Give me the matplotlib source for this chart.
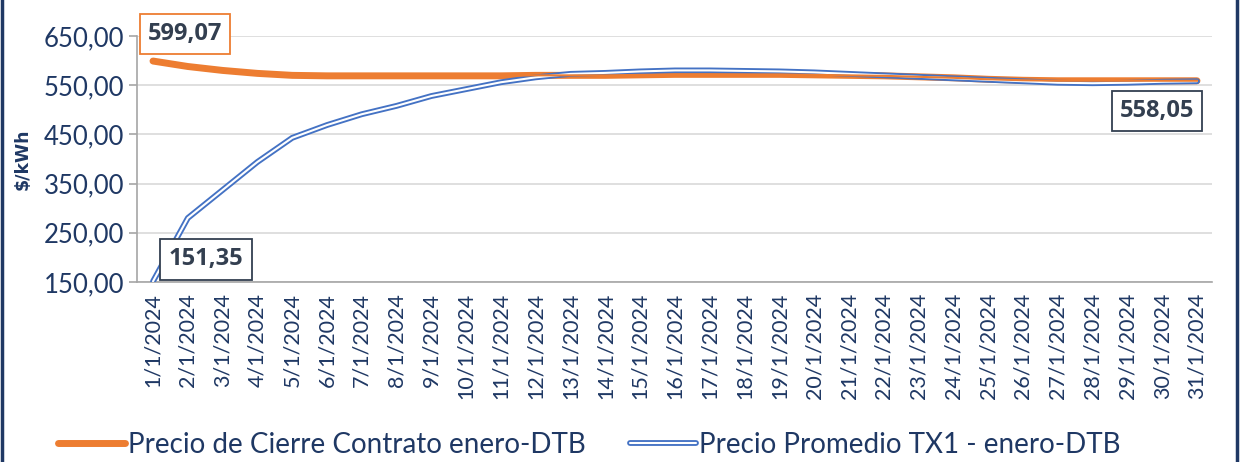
import matplotlib
matplotlib.use("Agg")
import matplotlib.pyplot as plt
from matplotlib.lines import Line2D

days = [f"{d}/1/2024" for d in range(1, 32)]
cierre = [599.07, 588, 580, 574, 570, 569, 569, 569, 569, 569,
          569, 570, 570, 570, 571, 572, 572, 572, 572, 571,
          570, 569, 567, 565, 562, 560, 559, 559, 559, 559, 559]
promedio_tx1 = [151.35, 280, 337, 394, 443, 469, 491, 508, 528, 542,
                556, 566, 573, 575, 578, 580, 580, 579, 578, 576,
                573, 570, 567, 564, 561, 558, 555, 554, 555, 557, 558.05]

navy = "#1F3864"
orange = "#ED7D31"
blue = "#4472C4"
label_dark = "#333F50"

plt.rcParams["font.family"] = ["Lato", "DejaVu Sans"]

fig = plt.figure(figsize=(12.41, 4.62), dpi=100)
ax = fig.add_axes([0.1104, 0.3896, 0.8662, 0.5325])

x = list(range(1, len(days) + 1))
ax.plot(x, cierre, color=orange, lw=5, solid_capstyle="round", zorder=3)
ax.plot(x, promedio_tx1, color=blue, lw=4.2, solid_capstyle="round", zorder=4)
ax.plot(x, promedio_tx1, color="white", lw=1.5, solid_capstyle="round", zorder=5)
ax.plot(x, cierre, color=orange, lw=1.5, zorder=6)

ax.set_xlim(0.54, 31.43)
ax.set_ylim(150, 650)
ax.set_yticks([150, 250, 350, 450, 550, 650])
ax.set_yticklabels([f"{v:.2f}".replace(".", ",") for v in ax.get_yticks()])
ax.set_xticks(x)
ax.set_xticklabels(days, rotation=90)
ax.tick_params(axis="y", colors="#A6A6A6", labelcolor=navy, labelsize=18.5,
               length=6, width=1.2, pad=3)
ax.tick_params(axis="x", length=0, labelcolor=navy, labelsize=15.5, pad=8)
ax.grid(axis="y", color="#D9D9D9", lw=1.2)
ax.set_axisbelow(True)
for s in ("top", "right"):
    ax.spines[s].set_visible(False)
for s in ("left", "bottom"):
    ax.spines[s].set_color("#A6A6A6")
    ax.spines[s].set_linewidth(1.2)
ax.set_ylabel("$/kWh", color=navy, fontsize=12.5, fontweight="bold",
              family=["DejaVu Sans"], labelpad=2)
ax.yaxis.set_label_coords(-0.098, 0.5)

box_font = dict(family=["Open Sans", "DejaVu Sans"], fontsize=17,
                fontweight="bold", color=label_dark, ha="center", va="center")
ax.annotate(f"{cierre[0]:.2f}".replace(".", ","), (x[0], cierre[0]),
            xytext=(32, 27), textcoords="offset pixels", zorder=7,
            bbox=dict(boxstyle="square,pad=0.35", fc="white", ec=orange, lw=1.3),
            **box_font)
ax.annotate(f"{promedio_tx1[0]:.2f}".replace(".", ","), (x[0], promedio_tx1[0]),
            xytext=(53, 22), textcoords="offset pixels", zorder=7,
            bbox=dict(boxstyle="square,pad=0.35", fc="white", ec=label_dark, lw=1.3),
            **box_font)
ax.annotate(f"{promedio_tx1[-1]:.2f}".replace(".", ","), (x[-1], promedio_tx1[-1]),
            xytext=(-40, -30), textcoords="offset pixels", zorder=7,
            bbox=dict(boxstyle="square,pad=0.35", fc="white", ec=label_dark, lw=1.3),
            **box_font)

h_orange = Line2D([], [], color=orange, lw=5, solid_capstyle="round")
h_blue = (Line2D([], [], color=blue, lw=4.2, solid_capstyle="round"),
          Line2D([], [], color="white", lw=1.5, solid_capstyle="round"))
fig.legend([h_orange, h_blue],
           ["Precio de Cierre Contrato enero-DTB", "Precio Promedio TX1 - enero-DTB"],
           loc="lower center", bbox_to_anchor=(0.475, -0.045), ncol=2, frameon=False,
           fontsize=20, labelcolor=navy, handlelength=2.4, handletextpad=0.1,
           columnspacing=1.6)

# outer frame edges
fig.add_artist(Line2D([0.002, 0.002], [0, 1], color=navy, lw=2.5))
fig.add_artist(Line2D([0.997, 0.997], [0, 1], color=navy, lw=2.5))

fig.savefig("out.png", dpi=100)
